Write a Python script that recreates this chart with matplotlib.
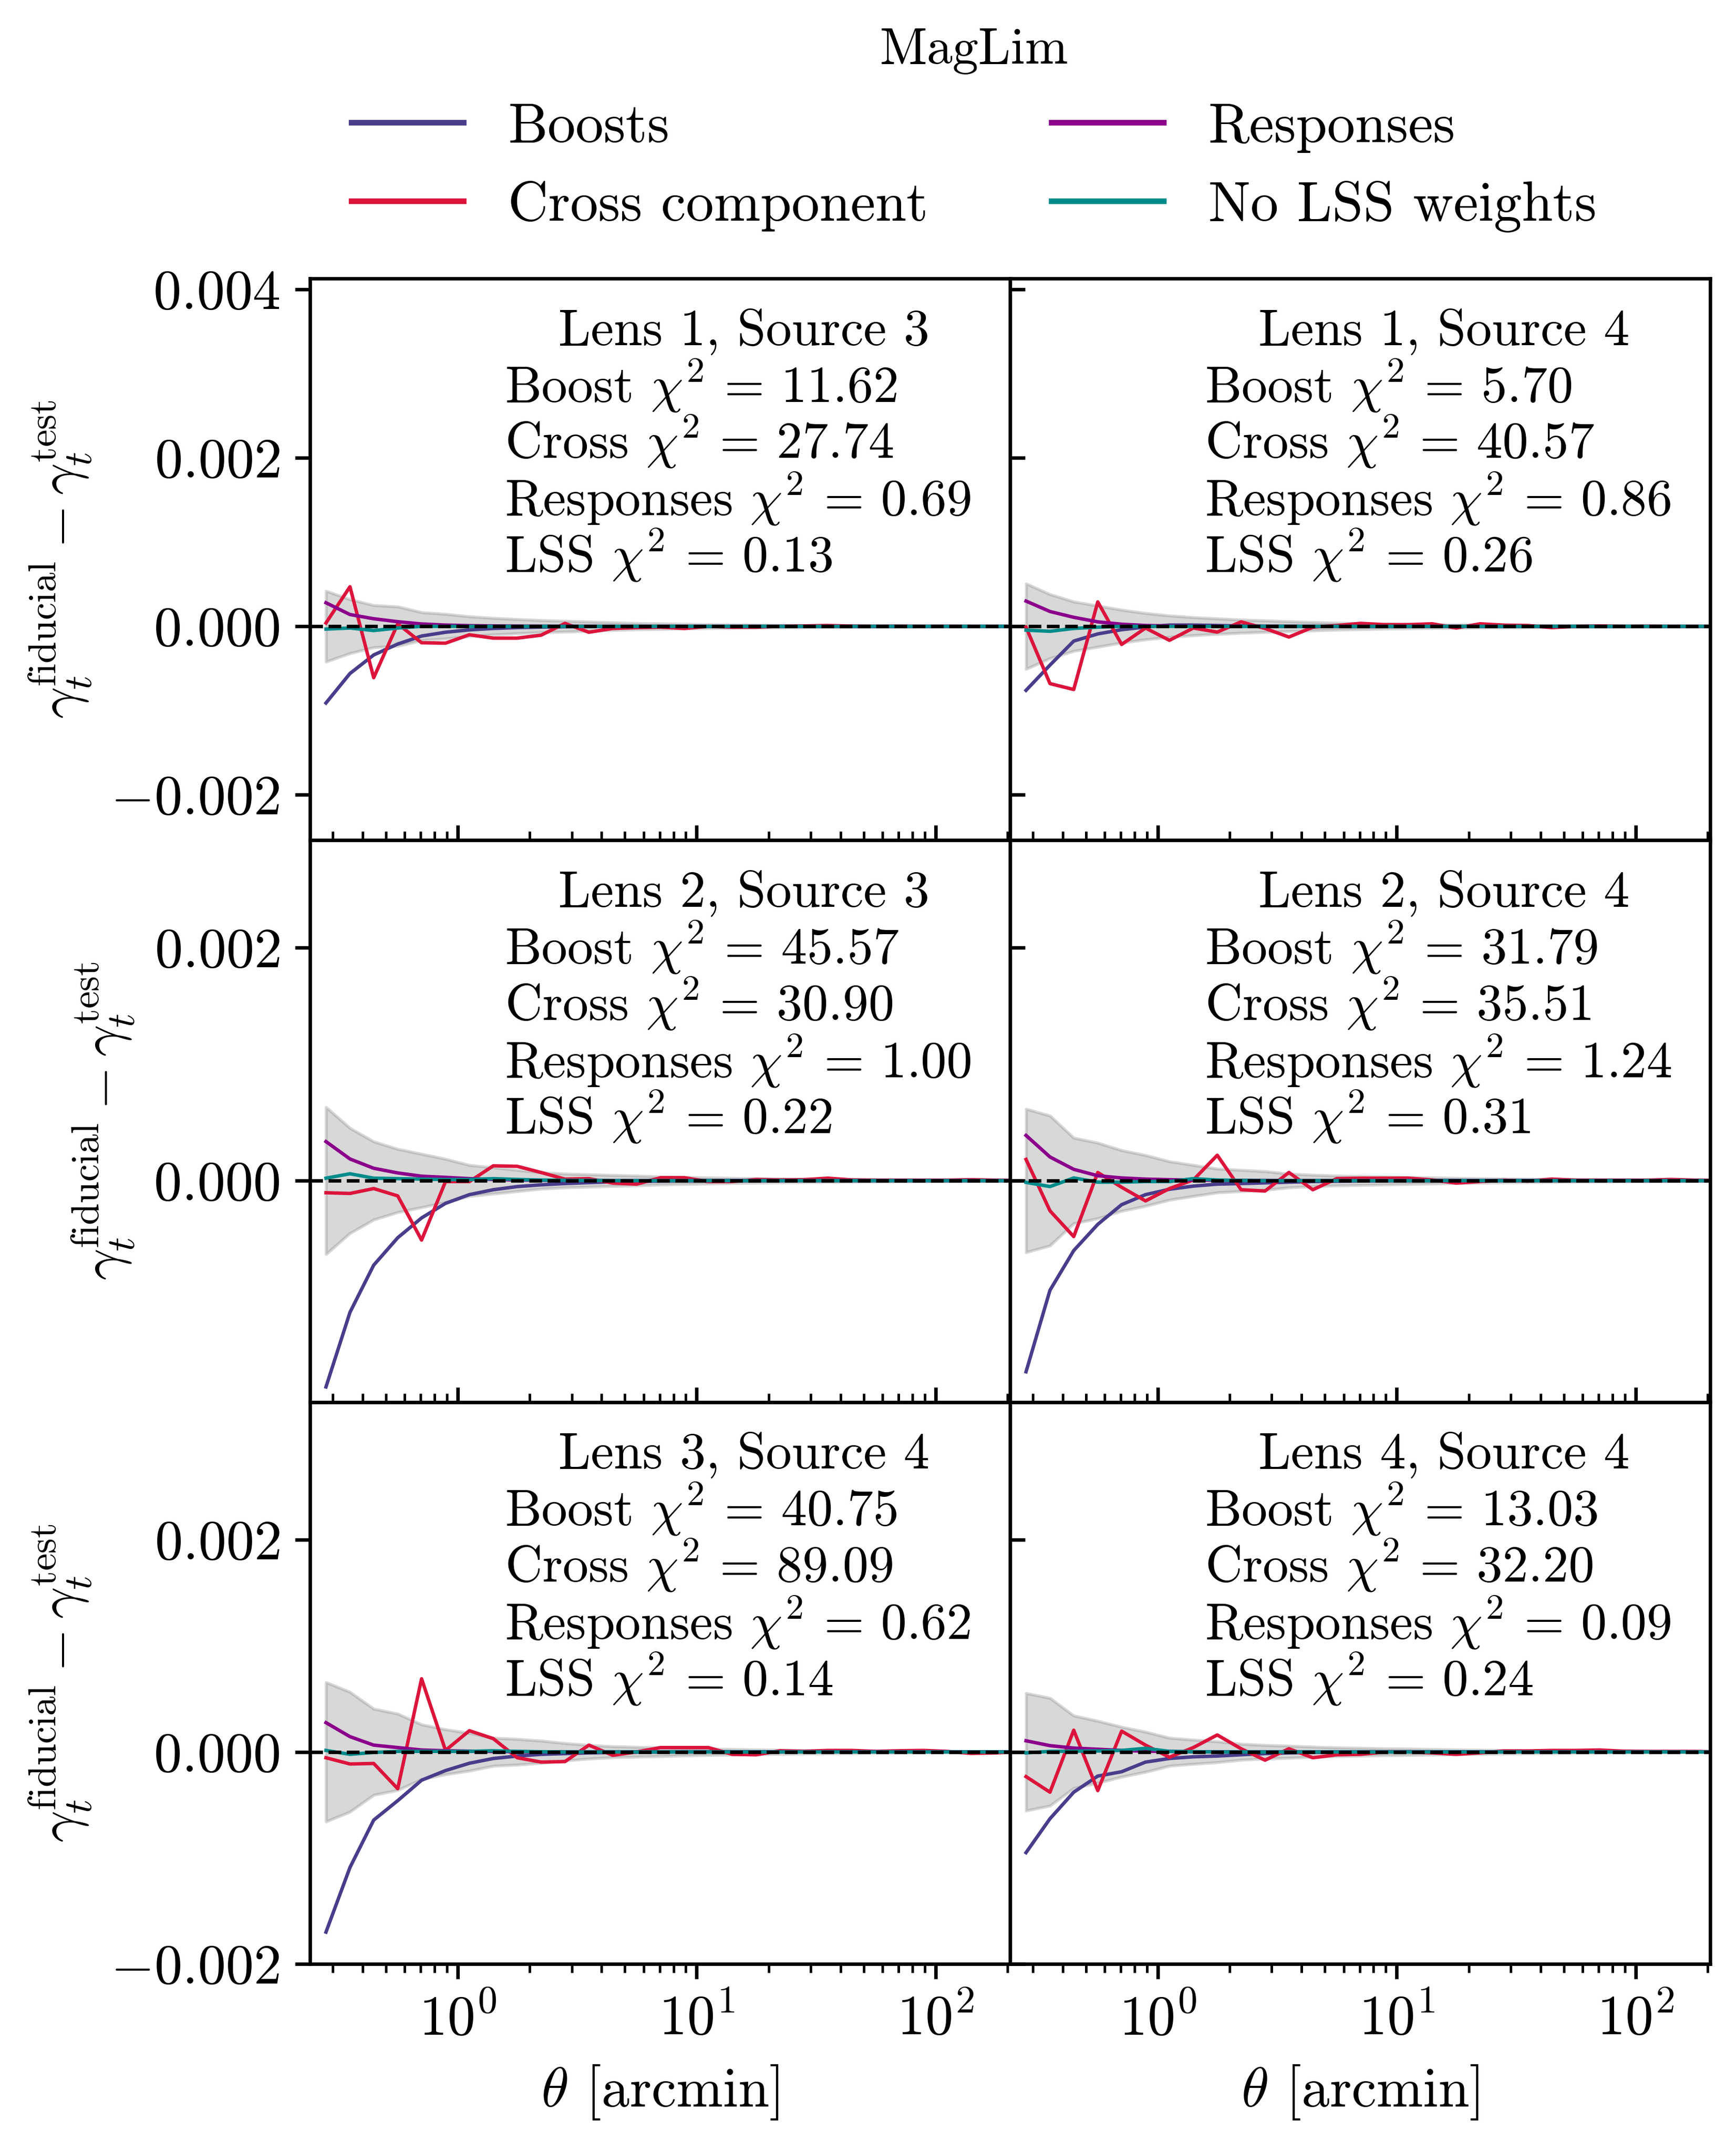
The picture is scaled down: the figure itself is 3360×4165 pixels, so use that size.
import numpy as np
import matplotlib
matplotlib.use("Agg")
import matplotlib.pyplot as plt
from matplotlib.lines import Line2D

# ---------------- data (values in units of 1e-4) ----------------
theta = [0.281, 0.354, 0.445, 0.561, 0.706, 0.889, 1.119, 1.409, 1.774, 2.233,
         2.812, 3.540, 4.456, 5.610, 7.063, 8.891, 11.19, 14.09, 17.74, 22.33,
         28.12, 35.40, 44.56, 56.10, 70.63, 88.91, 111.9, 140.9, 177.4, 223.3]

panel_titles = ["Lens 1, Source 3", "Lens 1, Source 4",
                "Lens 2, Source 3", "Lens 2, Source 4",
                "Lens 3, Source 4", "Lens 4, Source 4"]

chi2_boost = ["11.62", "5.70", "45.57", "31.79", "40.75", "13.03"]
chi2_cross = ["27.74", "40.57", "30.90", "35.51", "89.09", "32.20"]
chi2_resp = ["0.69", "0.86", "1.00", "1.24", "0.62", "0.09"]
chi2_lss = ["0.13", "0.26", "0.22", "0.31", "0.14", "0.24"]

boost_l1s3 = [-9.1, -5.6, -3.4, -2.1, -1.15, -0.70, -0.42, -0.25, -0.15, -0.09, -0.05, -0.03, -0.02, -0.01, -0.01,
              0, 0, 0, 0, 0, 0, 0, 0, 0, 0, 0, 0, 0, 0, 0]
boost_l1s4 = [-7.6, -4.6, -1.75, -0.9, -0.4, -0.08, 0.15, 0.15, 0.10, 0.05, 0.02, 0.01, 0, 0, 0,
              0, 0, 0, 0, 0, 0, 0, 0, 0, 0, 0, 0, 0, 0, 0]
boost_l2s3 = [-17.7, -11.3, -7.25, -4.9, -3.2, -1.95, -1.2, -0.78, -0.51, -0.36, -0.25, -0.17, -0.10, -0.06, -0.04,
              -0.02, -0.01, 0, 0, 0, 0, 0, 0, 0, 0, 0, 0, 0, 0, 0]
boost_l2s4 = [-16.4, -9.4, -6.0, -3.75, -2.06, -1.2, -0.74, -0.47, -0.30, -0.25, -0.19, -0.13, -0.08, -0.05, -0.03,
              -0.02, -0.01, 0, 0, 0, 0, 0, 0, 0, 0, 0, 0, 0, 0, 0]
boost_l3s4 = [-17.0, -10.9, -6.43, -4.6, -2.67, -1.76, -1.07, -0.62, -0.39, -0.23, -0.16, -0.09, -0.05, -0.03, -0.02,
              -0.01, 0, 0, 0, 0, 0, 0, 0, 0, 0, 0, 0, 0, 0, 0]
boost_l4s4 = [-9.5, -6.3, -3.8, -2.28, -1.87, -0.96, -0.62, -0.46, -0.39, -0.27, -0.16, -0.09, -0.05, -0.03, -0.02,
              -0.01, 0, 0, 0, 0, 0, 0, 0, 0, 0, 0, 0, 0, 0, 0]

cross_l1s3 = [0.4, 4.7, -6.1, 0.3, -1.95, -2.0, -1.0, -1.4, -1.4, -1.05, 0.35, -0.7, -0.25, -0.15, -0.1,
              -0.25, 0.0, -0.1, -0.1, 0.0, 0.05, 0.1, 0.03, 0.0, 0.02, 0.0, 0.01, 0.0, 0.0, 0.0]
cross_l1s4 = [-0.1, -6.8, -7.5, 2.9, -2.15, -0.2, -1.66, -0.2, -0.68, 0.53, -0.25, -1.27, -0.1, 0.1, 0.35,
              0.2, 0.2, 0.3, -0.2, 0.3, 0.14, 0.1, -0.15, 0.0, 0.05, 0.0, 0.02, 0.0, 0.0, 0.0]
cross_l2s3 = [-1.04, -1.1, -0.68, -1.31, -5.1, -0.08, -0.08, 1.27, 1.23, 0.7, 0.13, 0.17, -0.21, -0.3, 0.25,
              0.25, -0.08, -0.08, 0.1, 0.06, 0.08, 0.21, 0.06, 0.04, 0.04, 0.04, 0.04, 0.08, 0.04, 0.03]
cross_l2s4 = [1.82, -2.59, -4.8, 0.7, -0.57, -1.74, -0.68, 0.06, 2.18, -0.78, -0.89, 0.7, -0.78, 0.17, 0.21,
              0.21, 0.21, 0.06, -0.21, -0.08, 0.04, -0.04, 0.13, 0.04, 0.04, 0.04, 0.04, 0.1, 0.04, 0.03]
cross_l3s4 = [-0.55, -1.14, -1.09, -3.47, 6.9, 0.14, 2.0, 1.25, -0.55, -0.96, -0.91, 0.64, -0.32, 0.0, 0.41,
              0.41, 0.41, -0.23, -0.27, 0.11, 0.05, 0.14, 0.14, 0.05, 0.11, 0.14, 0.05, -0.14, -0.09, 0.0]
cross_l4s4 = [-2.33, -3.8, 2.05, -3.65, 1.96, 0.64, -0.5, 0.41, 1.6, 0.3, -0.78, 0.3, -0.55, -0.27, -0.23,
              0.0, 0.0, -0.09, -0.23, -0.09, 0.09, 0.09, 0.14, 0.14, 0.18, 0.07, 0.05, 0.05, 0.05, 0.0]

resp_l1s3 = [2.8, 1.4, 0.9, 0.55, 0.28, 0.15, 0.08, 0.05, 0.03, 0.02, 0.01, 0.01, 0, 0, 0,
             0, 0, 0, 0, 0, 0, 0, 0, 0, 0, 0, 0, 0, 0, 0]
resp_l1s4 = [3.0, 1.76, 1.07, 0.53, 0.25, 0.1, 0.05, 0.03, 0.02, 0.01, 0, 0, 0, 0, 0,
             0, 0, 0, 0, 0, 0, 0, 0, 0, 0, 0, 0, 0, 0, 0]
resp_l2s3 = [3.35, 1.86, 1.06, 0.66, 0.38, 0.28, 0.17, 0.10, 0.05, 0.03, 0.02, 0.01, 0, 0, 0,
             0, 0, 0, 0, 0, 0, 0, 0, 0, 0, 0, 0, 0, 0, 0]
resp_l2s4 = [3.88, 2.03, 0.97, 0.42, 0.23, 0.13, 0.08, 0.05, 0.03, 0.02, 0.01, 0, 0, 0, 0,
             0, 0, 0, 0, 0, 0, 0, 0, 0, 0, 0, 0, 0, 0, 0]
resp_l3s4 = [2.76, 1.44, 0.64, 0.41, 0.18, 0.11, 0.07, 0.04, 0.02, 0.01, 0, 0, 0, 0, 0,
             0, 0, 0, 0, 0, 0, 0, 0, 0, 0, 0, 0, 0, 0, 0]
resp_l4s4 = [1.05, 0.59, 0.36, 0.25, 0.14, 0.07, 0.04, 0.02, 0.01, 0, 0, 0, 0, 0, 0,
             0, 0, 0, 0, 0, 0, 0, 0, 0, 0, 0, 0, 0, 0, 0]

nolss_l1s3 = [-0.33, -0.2, -0.5, -0.2, 0, 0, 0, 0, 0, 0, 0, 0, 0, 0, 0,
              0, 0, 0, 0, 0, 0, 0, 0, 0, 0, 0, 0, 0, 0, 0]
nolss_l1s4 = [-0.45, -0.59, -0.25, -0.1, 0, 0, 0, 0, 0, 0, 0, 0, 0, 0, 0,
              0, 0, 0, 0, 0, 0, 0, 0, 0, 0, 0, 0, 0, 0, 0]
nolss_l2s3 = [0.21, 0.59, 0.21, 0.17, 0.13, 0.09, 0.09, 0.17, 0.1, 0.05, 0.03, 0.02, 0, 0, 0,
              0, 0, 0, 0, 0, 0, 0, 0, 0, 0, 0, 0, 0, 0, 0]
nolss_l2s4 = [-0.15, -0.51, 0.23, -0.13, -0.13, -0.08, -0.08, 0.17, 0.05, 0.02, 0, 0, 0, 0, 0,
              0, 0, 0, 0, 0, 0, 0, 0, 0, 0, 0, 0, 0, 0, 0]
nolss_l3s4 = [0.14, -0.23, -0.05, 0.05, 0.05, 0.05, 0.05, 0.11, 0.05, 0.02, 0, 0, 0, 0, 0,
              0, 0, 0, 0, 0, 0, 0, 0, 0, 0, 0, 0, 0, 0, 0]
nolss_l4s4 = [-0.09, 0.05, 0.07, 0.09, 0.14, 0.34, 0.05, 0.02, 0, 0, 0, 0, 0, 0, 0,
              0, 0, 0, 0, 0, 0, 0, 0, 0, 0, 0, 0, 0, 0, 0]

sigma_l1s3 = [4.2, 3.2, 2.5, 2.34, 1.66, 1.46, 1.17, 0.98, 0.84, 0.72, 0.64, 0.55, 0.45, 0.37, 0.33,
              0.27, 0.23, 0.20, 0.17, 0.14, 0.12, 0.10, 0.09, 0.08, 0.07, 0.06, 0.05, 0.05, 0.04, 0.04]
sigma_l1s4 = [5.07, 3.8, 2.93, 2.44, 1.95, 1.56, 1.27, 1.07, 0.92, 0.78, 0.68, 0.59, 0.49, 0.41, 0.35,
              0.29, 0.25, 0.22, 0.19, 0.16, 0.14, 0.12, 0.10, 0.09, 0.08, 0.07, 0.06, 0.05, 0.05, 0.05]
sigma_l2s3 = [6.31, 4.51, 3.35, 2.71, 2.29, 1.86, 1.33, 1.12, 0.91, 0.70, 0.59, 0.53, 0.47, 0.42, 0.34,
              0.30, 0.26, 0.22, 0.19, 0.16, 0.14, 0.12, 0.10, 0.09, 0.08, 0.07, 0.06, 0.05, 0.05, 0.05]
sigma_l2s4 = [6.15, 5.57, 3.67, 3.24, 2.6, 2.18, 1.65, 1.33, 1.02, 0.91, 0.80, 0.59, 0.49, 0.42, 0.38,
              0.34, 0.30, 0.26, 0.22, 0.19, 0.16, 0.14, 0.12, 0.10, 0.09, 0.08, 0.07, 0.06, 0.05, 0.05]
sigma_l3s4 = [6.57, 5.65, 4.06, 3.6, 2.58, 2.12, 1.78, 1.32, 1.21, 1.05, 0.82, 0.64, 0.52, 0.46, 0.41,
              0.34, 0.30, 0.26, 0.22, 0.19, 0.16, 0.14, 0.12, 0.10, 0.09, 0.08, 0.07, 0.06, 0.05, 0.05]
sigma_l4s4 = [5.54, 5.08, 3.42, 2.92, 2.35, 1.89, 1.32, 1.14, 0.98, 0.75, 0.64, 0.57, 0.48, 0.41, 0.37,
              0.32, 0.30, 0.26, 0.22, 0.19, 0.16, 0.14, 0.12, 0.10, 0.09, 0.08, 0.07, 0.06, 0.05, 0.05]

boosts = [boost_l1s3, boost_l1s4, boost_l2s3, boost_l2s4, boost_l3s4, boost_l4s4]
crosses = [cross_l1s3, cross_l1s4, cross_l2s3, cross_l2s4, cross_l3s4, cross_l4s4]
resps = [resp_l1s3, resp_l1s4, resp_l2s3, resp_l2s4, resp_l3s4, resp_l4s4]
nolss = [nolss_l1s3, nolss_l1s4, nolss_l2s3, nolss_l2s4, nolss_l3s4, nolss_l4s4]
sigmas = [sigma_l1s3, sigma_l1s4, sigma_l2s3, sigma_l2s4, sigma_l3s4, sigma_l4s4]

series_labels = ["Boosts", "Cross component", "Responses", "No LSS weights"]
series_colors = ["darkslateblue", "crimson", "darkmagenta", "darkcyan"]

row_ylims = [(-0.00254, 0.00413), (-0.0019, 0.00292), (-0.002, 0.0033)]
row_yticks = [[-0.002, 0.0, 0.002, 0.004], [0.0, 0.002], [-0.002, 0.0, 0.002]]
xlims = (0.241, 205)
unit = 1e-4

# ---------------- style ----------------
plt.rcParams.update({
    "font.family": "serif",
    "font.serif": ["cmr10"],
    "mathtext.fontset": "cm",
    "axes.formatter.use_mathtext": True,
    "axes.unicode_minus": True,
})

fig, axes = plt.subplots(3, 2, figsize=(5.6, 6.9417), dpi=600, sharex=True, sharey="row")
fig.subplots_adjust(left=0.1786, right=0.9851, top=0.8706, bottom=0.0874, wspace=0, hspace=0)

th = np.array(theta)
for k, ax in enumerate(axes.flat):
    r, c = divmod(k, 2)
    sig = np.array(sigmas[k]) * unit
    ax.fill_between(th, -sig, sig, color="gray", alpha=0.3, linewidth=0.7)
    data = [boosts[k], crosses[k], resps[k], nolss[k]]
    for d, col in zip(data, series_colors):
        ax.plot(th, np.array(d) * unit, color=col, lw=0.8)
    ax.axhline(0, color="k", ls="--", lw=0.8)
    ax.set_xscale("log")
    ax.set_xlim(*xlims)
    ax.set_ylim(*row_ylims[r])
    ax.set_yticks(row_yticks[r])
    ax.tick_params(labelsize=13)
    ax.tick_params(axis="y", which="both", direction="out" if c == 0 else "in")
    ax.tick_params(axis="x", which="both", direction="out" if r == 2 else "in")

    ax.text(0.355, 0.882, panel_titles[k], transform=ax.transAxes, fontsize=12, va="baseline")
    lines = ["Boost $\\chi^2\\,=\\,%s$" % chi2_boost[k],
             "Cross $\\chi^2\\,=\\,%s$" % chi2_cross[k],
             "Responses $\\chi^2\\,=\\,%s$" % chi2_resp[k],
             "LSS $\\chi^2\\,=\\,%s$" % chi2_lss[k]]
    for s, yy in zip(lines, [0.780, 0.680, 0.578, 0.478]):
        ax.text(0.278, yy, s, transform=ax.transAxes, fontsize=12, va="baseline")

    if c == 0:
        ax.set_ylabel(r"$\gamma_t^{\rm fiducial} - \gamma_t^{\rm test}$", fontsize=13)
    if r == 2:
        ax.set_xlabel(r"$\theta$ [arcmin]", fontsize=13)

handles = [Line2D([], [], color=col, lw=1.3) for col in series_colors]
fig.legend(handles, series_labels, loc="upper center", bbox_to_anchor=(0.561, 1.0105),
           ncol=2, frameon=False, fontsize=13, title="MagLim", title_fontsize=12,
           columnspacing=2.2)

fig.savefig("out.png", dpi=600)
